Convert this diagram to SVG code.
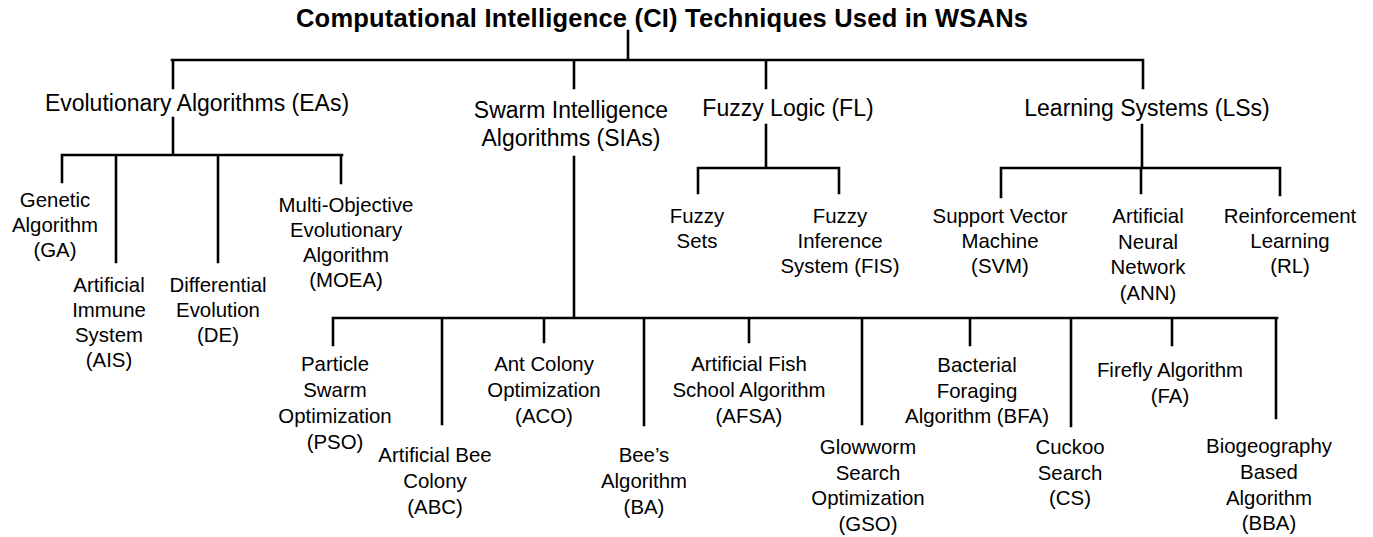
<svg xmlns="http://www.w3.org/2000/svg" width="1373" height="537" viewBox="0 0 1373 537">
  <style>
    text { font-family: "Liberation Sans", Arial, sans-serif; fill: #000; text-anchor: middle; }
    .title { font-size: 25.5px; font-weight: bold; }
    .l2 { font-size: 23px; }
    .l3 { font-size: 20.4px; }
    .wire { fill: none; stroke: #000; stroke-width: 2.6; stroke-linecap: square; }
  </style>
  <rect width="1373" height="537" fill="#fff"/>

  <!-- tree connectors -->
  <g id="connectors" class="wire">
    <!-- root to the four families -->
    <path d="M628 31V60M172 60H1143M173 60V88M574 60V88M766 60V88M1143 60V88"/>
    <!-- evolutionary algorithms -->
    <path d="M173 118V155M62 155H342M62 155V182M116 155V262M218 155V262M341 155V183"/>
    <!-- swarm intelligence -->
    <path d="M574 157V318M333 318H1277M333 318V345M442 318V424M544 318V342M644 318V425M749 318V342M862 318V424M970 318V345M1071 318V426M1172 318V345M1276 318V418"/>
    <!-- fuzzy logic -->
    <path d="M766 125V168M698 168H839M698 168V193M839 168V193"/>
    <!-- learning systems -->
    <path d="M1142 125V168M1001 168H1280M1001 168V197M1141 168V193M1280 168V195"/>
  </g>

  <g id="root"><text class="title" x="662" y="27" textLength="732" lengthAdjust="spacing">Computational Intelligence (CI) Techniques Used in WSANs</text></g>

  <g id="ea"><text class="l2" x="197" y="111">Evolutionary Algorithms (EAs)</text></g>
  <g id="sia"><text class="l2" x="571" y="118">Swarm Intelligence<tspan x="571" dy="28">Algorithms (SIAs)</tspan></text></g>
  <g id="fl"><text class="l2" x="788" y="116">Fuzzy Logic (FL)</text></g>
  <g id="ls"><text class="l2" x="1147" y="116">Learning Systems (LSs)</text></g>

  <!-- evolutionary algorithm members -->
  <g id="ga"><text class="l3" x="55" y="207">Genetic<tspan x="55" dy="25">Algorithm</tspan><tspan x="55" dy="25">(GA)</tspan></text></g>
  <g id="ais"><text class="l3" x="109" y="292">Artificial<tspan x="109" dy="25">Immune</tspan><tspan x="109" dy="25">System</tspan><tspan x="109" dy="25">(AIS)</tspan></text></g>
  <g id="de"><text class="l3" x="218" y="292">Differential<tspan x="218" dy="25">Evolution</tspan><tspan x="218" dy="25">(DE)</tspan></text></g>
  <g id="moea"><text class="l3" x="346" y="212">Multi-Objective<tspan x="346" dy="25">Evolutionary</tspan><tspan x="346" dy="25">Algorithm</tspan><tspan x="346" dy="25">(MOEA)</tspan></text></g>

  <!-- fuzzy logic members -->
  <g id="fs"><text class="l3" x="697" y="223">Fuzzy<tspan x="697" dy="25">Sets</tspan></text></g>
  <g id="fis"><text class="l3" x="840" y="223">Fuzzy<tspan x="840" dy="25">Inference</tspan><tspan x="840" dy="25">System (FIS)</tspan></text></g>

  <!-- learning system members -->
  <g id="svm"><text class="l3" x="1000" y="223">Support Vector<tspan x="1000" dy="25">Machine</tspan><tspan x="1000" dy="25">(SVM)</tspan></text></g>
  <g id="ann"><text class="l3" x="1148" y="223">Artificial<tspan x="1148" dy="25.5">Neural</tspan><tspan x="1148" dy="25.5">Network</tspan><tspan x="1148" dy="25.5">(ANN)</tspan></text></g>
  <g id="rl"><text class="l3" x="1290" y="223">Reinforcement<tspan x="1290" dy="25">Learning</tspan><tspan x="1290" dy="25">(RL)</tspan></text></g>

  <!-- swarm intelligence members -->
  <g id="pso"><text class="l3" x="335" y="371">Particle<tspan x="335" dy="26">Swarm</tspan><tspan x="335" dy="26">Optimization</tspan><tspan x="335" dy="26">(PSO)</tspan></text></g>
  <g id="abc"><text class="l3" x="435" y="462">Artificial Bee<tspan x="435" dy="26">Colony</tspan><tspan x="435" dy="26">(ABC)</tspan></text></g>
  <g id="aco"><text class="l3" x="544" y="371">Ant Colony<tspan x="544" dy="26">Optimization</tspan><tspan x="544" dy="26">(ACO)</tspan></text></g>
  <g id="ba"><text class="l3" x="644" y="462">Bee’s<tspan x="644" dy="26">Algorithm</tspan><tspan x="644" dy="26">(BA)</tspan></text></g>
  <g id="afsa"><text class="l3" x="749" y="371">Artificial Fish<tspan x="749" dy="26">School Algorithm</tspan><tspan x="749" dy="26">(AFSA)</tspan></text></g>
  <g id="gso"><text class="l3" x="868" y="454">Glowworm<tspan x="868" dy="25.5">Search</tspan><tspan x="868" dy="25.5">Optimization</tspan><tspan x="868" dy="25.5">(GSO)</tspan></text></g>
  <g id="bfa"><text class="l3" x="977" y="372">Bacterial<tspan x="977" dy="25.5">Foraging</tspan><tspan x="977" dy="25.5">Algorithm (BFA)</tspan></text></g>
  <g id="cs"><text class="l3" x="1070" y="454">Cuckoo<tspan x="1070" dy="25.5">Search</tspan><tspan x="1070" dy="25.5">(CS)</tspan></text></g>
  <g id="fa"><text class="l3" x="1170" y="377">Firefly Algorithm<tspan x="1170" dy="26">(FA)</tspan></text></g>
  <g id="bba"><text class="l3" x="1269" y="453">Biogeography<tspan x="1269" dy="26">Based</tspan><tspan x="1269" dy="26">Algorithm</tspan><tspan x="1269" dy="25">(BBA)</tspan></text></g>
</svg>
